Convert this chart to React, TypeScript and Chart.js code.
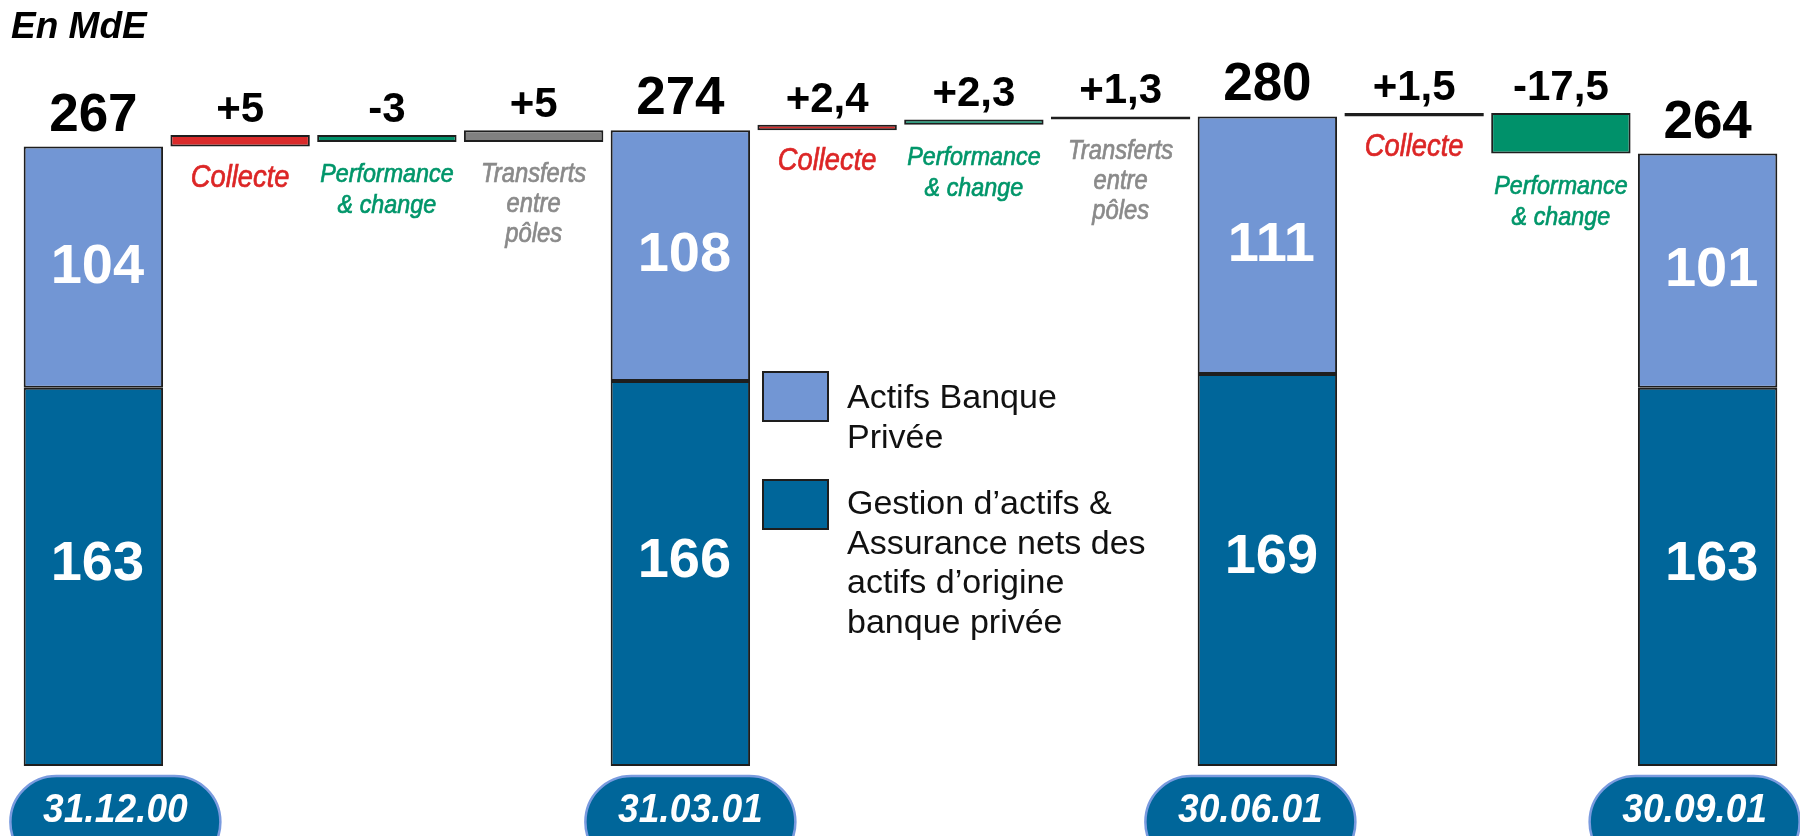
import React, { useEffect, useRef } from "react";
import { Chart, registerables } from "chart.js";

Chart.register(...registerables);

// ---------- data ----------
const title = "En MdE";
const periods = ["31.12.00", "31.03.01", "30.06.01", "30.09.01"];
const gestionActifs = [163, 166, 169, 163];
const actifsBanquePrivee = [104, 108, 111, 101];
const collecte = [5, 2.4, 1.5];
const performanceChange = [-3, 2.3, -17.5];
const transferts: (number | null)[] = [5, 1.3, null];

const collecteLabel = ["Collecte"];
const performanceLabel = ["Performance", "& change"];
const transfertsLabel = ["Transferts", "entre", "pôles"];
const legendBanque = ["Actifs Banque", "Privée"];
const legendGestion = ["Gestion d’actifs &", "Assurance nets des", "actifs d’origine", "banque privée"];

// ---------- styles ----------
const C_LIGHT = "#7296D4";
const C_DARK = "#00669A";
const C_RED = "#DA2B2B";
const C_GREEN = "#00916A";
const C_GREY = "#808080";
const C_RED_TXT = "#DC2626";
const C_GREEN_TXT = "#00966A";
const C_GREY_TXT = "#8A8A8A";
const BORDER = "#1e1e1e";
const SANS = '"Liberation Sans", Arial, sans-serif';
const PILL_SHIFT = [22, 10, -17, -13];

type Kind = "total" | "collecte" | "performance" | "transferts";
type Col = { kind: Kind; period: number; from: number; to: number; delta: number };

function buildColumns(): Col[] {
  const cols: Col[] = [];
  periods.forEach((_, i) => {
    const total = gestionActifs[i] + actifsBanquePrivee[i];
    cols.push({ kind: "total", period: i, from: 0, to: total, delta: 0 });
    if (i < periods.length - 1) {
      let run = total;
      const moves: [Kind, number | null][] = [
        ["collecte", collecte[i]],
        ["performance", performanceChange[i]],
        ["transferts", transferts[i]],
      ];
      for (const [k, v] of moves) {
        if (v == null) continue;
        cols.push({ kind: k, period: i, from: run, to: run + v, delta: v });
        run += v;
      }
    }
  });
  return cols;
}

const fmtDelta = (v: number) => (v > 0 ? "+" : "") + String(v).replace(".", ",");

function fillScaled(ctx: CanvasRenderingContext2D, text: string, x: number, y: number, sx: number, stroke = 0) {
  ctx.save();
  ctx.translate(x, y);
  ctx.scale(sx, 1);
  ctx.fillText(text, 0, 0);
  if (stroke > 0) {
    ctx.lineWidth = stroke;
    ctx.strokeStyle = ctx.fillStyle as string;
    ctx.strokeText(text, 0, 0);
  }
  ctx.restore();
}

export default function App() {
  const ref = useRef<HTMLCanvasElement | null>(null);

  useEffect(() => {
    if (!ref.current) return;
    const cols = buildColumns();
    const labels = cols.map((c, i) => `${c.kind}-${i}`);
    const pick = (kind: Kind) =>
      cols.map((c) => (c.kind === kind ? [Math.min(c.from, c.to), Math.max(c.from, c.to)] : null));

    const darkData = cols.map((c) => (c.kind === "total" ? [0, gestionActifs[c.period]] : null));
    const lightData = cols.map((c) =>
      c.kind === "total" ? [gestionActifs[c.period], gestionActifs[c.period] + actifsBanquePrivee[c.period]] : null
    );

    const common = { borderColor: BORDER, borderWidth: 2, borderSkipped: false as const };

    const textPlugin = {
      id: "waterfallText",
      afterDatasetsDraw(chart: any) {
        const ctx = chart.ctx as CanvasRenderingContext2D;
        const xs = chart.scales.x;
        const ys = chart.scales.y;
        ctx.save();
        ctx.textAlign = "center";
        ctx.textBaseline = "alphabetic";

        cols.forEach((c, i) => {
          const x = xs.getPixelForValue(i);
          const top = ys.getPixelForValue(Math.max(c.from, c.to));
          const bottom = ys.getPixelForValue(Math.min(c.from, c.to));
          if (c.kind === "total") {
            const g = gestionActifs[c.period];
            const b = actifsBanquePrivee[c.period];
            ctx.fillStyle = "#000";
            ctx.font = `bold 53px ${SANS}`;
            ctx.fillText(String(g + b), x, top - 16);
            ctx.fillStyle = "#fff";
            ctx.font = `bold 56px ${SANS}`;
            ctx.textBaseline = "middle";
            const ySplit = ys.getPixelForValue(g);
            ctx.fillText(String(b), x + 4, (top + ySplit) / 2);
            ctx.fillText(String(g), x + 4, (ySplit + ys.getPixelForValue(0)) / 2 - 12);
            ctx.textBaseline = "alphabetic";
          } else {
            ctx.fillStyle = "#000";
            ctx.font = `bold 42px ${SANS}`;
            ctx.fillText(fmtDelta(c.delta), x, top - 13);
            let lines = collecteLabel;
            let color = C_RED_TXT;
            let size = 31;
            let lh = 34;
            if (c.kind === "performance") {
              lines = performanceLabel;
              color = C_GREEN_TXT;
              size = 26.5;
              lh = 31;
            } else if (c.kind === "transferts") {
              lines = transfertsLabel;
              color = C_GREY_TXT;
              size = 27;
              lh = 30;
            }
            ctx.fillStyle = color;
            ctx.font = `italic ${size}px ${SANS}`;
            lines.forEach((ln, k) => fillScaled(ctx, ln, x, bottom + 40 + k * lh, 0.88, 0.7));
          }
        });

        // date pills
        let p = 0;
        cols.forEach((c, i) => {
          if (c.kind !== "total") return;
          const x = xs.getPixelForValue(i) + PILL_SHIFT[p++];
          const w = 210;
          const h = 92;
          const y0 = 776;
          ctx.beginPath();
          ctx.roundRect(x - w / 2, y0, w, h, 46);
          ctx.fillStyle = C_DARK;
          ctx.fill();
          ctx.lineWidth = 2.5;
          ctx.strokeStyle = "#7A9BDF";
          ctx.stroke();
          ctx.fillStyle = "#fff";
          ctx.font = `italic bold 40px ${SANS}`;
          fillScaled(ctx, periods[c.period], x, 822, 0.93);
        });

        // title
        ctx.textAlign = "left";
        ctx.fillStyle = "#000";
        ctx.font = `italic bold 37px ${SANS}`;
        ctx.fillText(title, 11, 38);

        // legend
        const drawBox = (y: number, col: string) => {
          ctx.fillStyle = col;
          ctx.fillRect(763, y, 65, 49);
          ctx.lineWidth = 2;
          ctx.strokeStyle = BORDER;
          ctx.strokeRect(763, y, 65, 49);
        };
        drawBox(372, C_LIGHT);
        drawBox(480, C_DARK);
        ctx.fillStyle = "#111";
        ctx.font = `34px ${SANS}`;
        legendBanque.forEach((ln, k) => ctx.fillText(ln, 847, 408 + k * 40));
        legendGestion.forEach((ln, k) => ctx.fillText(ln, 847, 514 + k * 39.5));
        ctx.restore();
      },
    };

    const chart = new Chart(ref.current, {
      type: "bar",
      data: {
        labels,
        datasets: [
          { label: "Gestion d’actifs & Assurance", data: darkData as any, backgroundColor: C_DARK, ...common },
          { label: "Actifs Banque Privée", data: lightData as any, backgroundColor: C_LIGHT, ...common },
          { label: "Collecte", data: pick("collecte") as any, backgroundColor: C_RED, ...common },
          { label: "Performance & change", data: pick("performance") as any, backgroundColor: C_GREEN, ...common },
          { label: "Transferts entre pôles", data: pick("transferts") as any, backgroundColor: C_GREY, ...common },
        ],
      },
      options: {
        animation: false,
        responsive: false,
        devicePixelRatio: 1,
        layout: { padding: { left: 20, right: 19, top: 70, bottom: 70 } },
        plugins: { legend: { display: false }, tooltip: { enabled: false } },
        datasets: { bar: { barPercentage: 0.95, categoryPercentage: 1, grouped: false } as any },
        scales: {
          x: { display: false, stacked: true, grid: { display: false } },
          y: { display: false, stacked: false, min: 0, max: 300 },
        },
      },
      plugins: [textPlugin],
    });
    return () => chart.destroy();
  }, []);

  return (
    <div style={{ position: "fixed", left: 0, top: 0, width: 1800, height: 836, background: "#fff" }}>
      <canvas ref={ref} width={1800} height={836} style={{ display: "block", width: 1800, height: 836 }} />
    </div>
  );
}
